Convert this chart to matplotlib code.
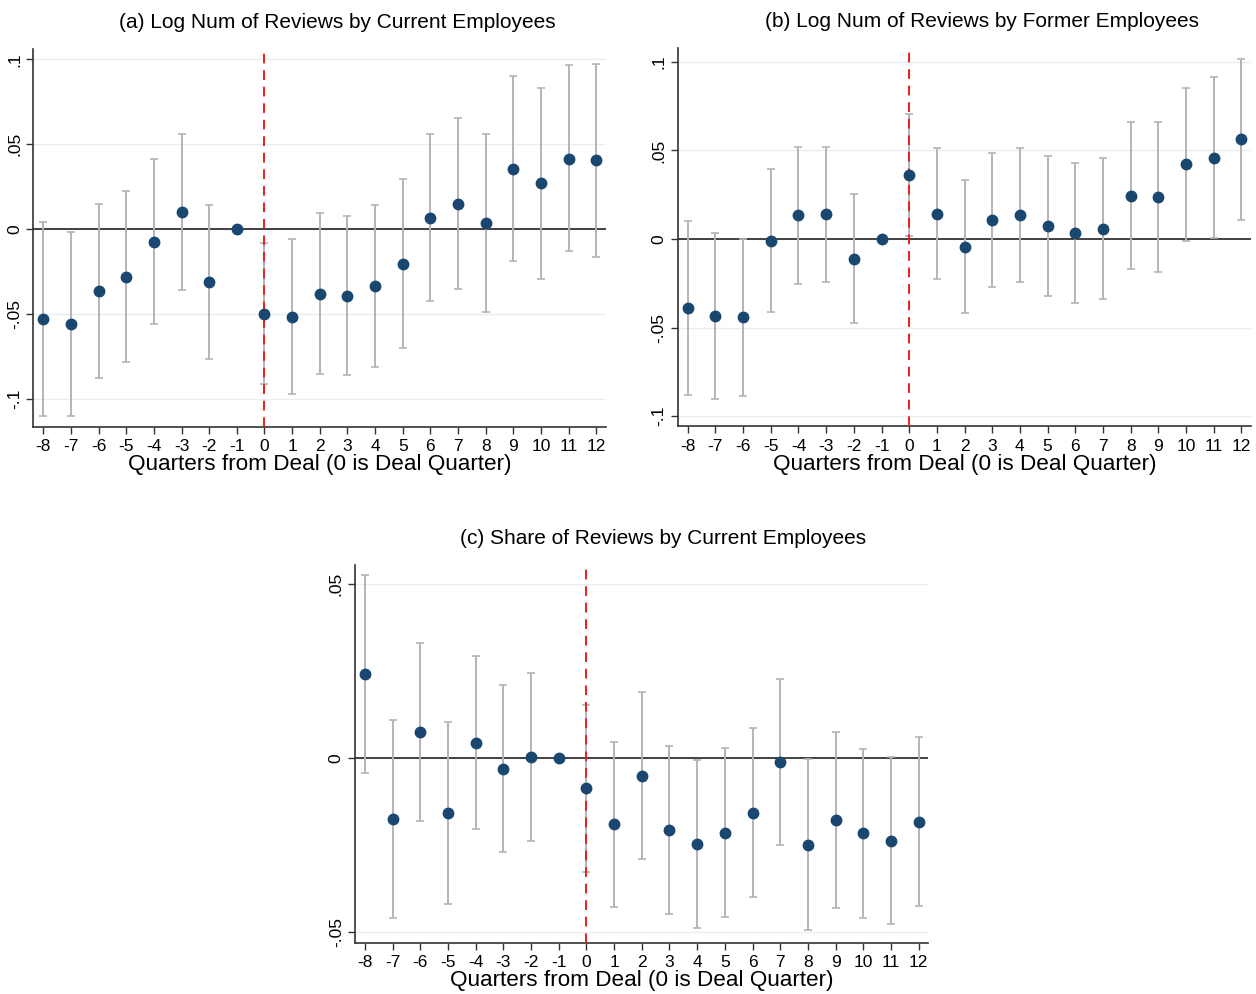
import matplotlib
matplotlib.use("Agg")
import matplotlib.pyplot as plt
import numpy as np

plt.rcParams['font.family'] = ['Liberation Sans', 'DejaVu Sans']
plt.rcParams['axes.unicode_minus'] = False

quarters = list(range(-8, 13))

# (a) log number of reviews, current employees
a_coef = [-0.0531, -0.0560, -0.0368, -0.0281, -0.0075, 0.0102, -0.0315, 0.0, -0.0500, -0.0517,
          -0.0382, -0.0393, -0.0338, -0.0205, 0.0065, 0.0147, 0.0035, 0.0356, 0.0269, 0.0415, 0.0405]
a_hi = [0.0043, -0.0020, 0.0147, 0.0226, 0.0413, 0.0562, 0.0142, 0.0, -0.0085, -0.0061,
        0.0094, 0.0075, 0.0142, 0.0297, 0.0558, 0.0653, 0.0558, 0.0905, 0.0832, 0.0966, 0.0973]
a_lo = [-0.1105, -0.1101, -0.0881, -0.0785, -0.0560, -0.0358, -0.0769, 0.0, -0.0916, -0.0971,
        -0.0857, -0.0863, -0.0816, -0.0704, -0.0427, -0.0356, -0.0488, -0.0191, -0.0293, -0.0132, -0.0163]

# (b) log number of reviews, former employees
b_coef = [-0.0389, -0.0437, -0.0442, -0.0011, 0.0135, 0.0139, -0.0111, 0.0, 0.0361, 0.0143,
          -0.0043, 0.0109, 0.0137, 0.0075, 0.0034, 0.0058, 0.0245, 0.0237, 0.0421, 0.0459, 0.0563]
b_hi = [0.0102, 0.0036, 0.0, 0.0393, 0.0521, 0.0521, 0.0252, 0.0, 0.0706, 0.0516,
        0.0335, 0.0487, 0.0516, 0.0468, 0.0431, 0.0459, 0.0662, 0.0662, 0.0854, 0.0914, 0.1018]
b_lo = [-0.0881, -0.0903, -0.0886, -0.0414, -0.0252, -0.0241, -0.0472, 0.0, 0.0017, -0.0228,
        -0.0420, -0.0269, -0.0241, -0.0320, -0.0363, -0.0339, -0.0171, -0.0188, -0.0009, 0.0004, 0.0105]

# (c) share of reviews by current employees
c_coef = [0.0240, -0.0175, 0.0074, -0.0158, 0.0044, -0.0031, 0.0002, 0.0, -0.0087, -0.0190,
          -0.0051, -0.0207, -0.0247, -0.0214, -0.0157, -0.0012, -0.0250, -0.0178, -0.0216, -0.0237, -0.0183]
c_hi = [0.0524, 0.0108, 0.0330, 0.0103, 0.0294, 0.0210, 0.0243, 0.0, 0.0151, 0.0047,
        0.0190, 0.0034, -0.0007, 0.0029, 0.0087, 0.0228, -0.0004, 0.0076, 0.0027, 0.0004, 0.0059]
c_lo = [-0.0044, -0.0458, -0.0182, -0.0418, -0.0205, -0.0271, -0.0238, 0.0, -0.0326, -0.0427,
        -0.0291, -0.0448, -0.0488, -0.0456, -0.0400, -0.0251, -0.0494, -0.0429, -0.0458, -0.0477, -0.0424]

titles = ["(a) Log Num of Reviews by Current Employees",
          "(b) Log Num of Reviews by Former Employees",
          "(c) Share of Reviews by Current Employees"]
xlabel = "Quarters from Deal (0 is Deal Quarter)"

navy = "#1a476f"
gray = "#b4b4b4"
gridc = "#e6eff1"


def fmt(v):
    s = ("%g" % round(v, 4))
    return s.replace("0.", ".")


def event_plot(ax, coef, lo, hi, title, yticks, ylim, title_x):
    x = np.array(quarters)
    coef = np.array(coef)
    lo = np.array(lo)
    hi = np.array(hi)
    has_ci = hi != lo
    for yt in yticks:
        ax.axhline(yt, color=gridc, lw=1.0, zorder=0)
    ax.axhline(0, color="#333333", lw=1.3, zorder=1)
    ax.errorbar(x[has_ci], coef[has_ci],
                yerr=[coef[has_ci] - lo[has_ci], hi[has_ci] - coef[has_ci]],
                fmt="none", ecolor=gray, elinewidth=1.4, capsize=3, capthick=1.2, zorder=2)
    ax.axvline(0, color="#ee1c1c", lw=1.4, ls=(0, (5, 3.5)), zorder=3)
    ax.plot(x, coef, "o", color=navy, ms=7.5, zorder=4)

    ax.set_xlim(-8.36, 12.35)
    ax.set_ylim(*ylim)
    ax.set_xticks(quarters)
    ax.set_yticks(yticks)
    ax.set_yticklabels([fmt(v) for v in yticks], rotation=90, va="center")
    ax.tick_params(axis="both", direction="out", length=5, width=1, color="#333333", labelsize=12.5)
    ax.tick_params(axis="x", pad=4)
    ax.tick_params(axis="y", pad=3)
    for s in ["top", "right"]:
        ax.spines[s].set_visible(False)
    for s in ["left", "bottom"]:
        ax.spines[s].set_color("#333333")
        ax.spines[s].set_linewidth(1.2)
    # title centred over the whole panel, including the y tick labels
    ax.set_title(title, fontsize=15.0, pad=15, x=title_x)
    ax.set_xlabel(xlabel, fontsize=16.2, labelpad=0)


fig = plt.figure(figsize=(12.56, 9.94), dpi=100)
ax1 = fig.add_axes([0.0265, 0.5707, 0.456, 0.3797])
ax2 = fig.add_axes([0.5396, 0.5714, 0.4565, 0.3800])
ax3 = fig.add_axes([0.2826, 0.0516, 0.4565, 0.3800])

event_plot(ax1, a_coef, a_lo, a_hi, titles[0], [-0.1, -0.05, 0, 0.05, 0.1], (-0.1166, 0.106), 0.530)
event_plot(ax2, b_coef, b_lo, b_hi, titles[1], [-0.1, -0.05, 0, 0.05, 0.1], (-0.1055, 0.1076), 0.530)
event_plot(ax3, c_coef, c_lo, c_hi, titles[2], [-0.05, 0, 0.05], (-0.053, 0.0554), 0.538)

fig.savefig("out.png", dpi=100)
